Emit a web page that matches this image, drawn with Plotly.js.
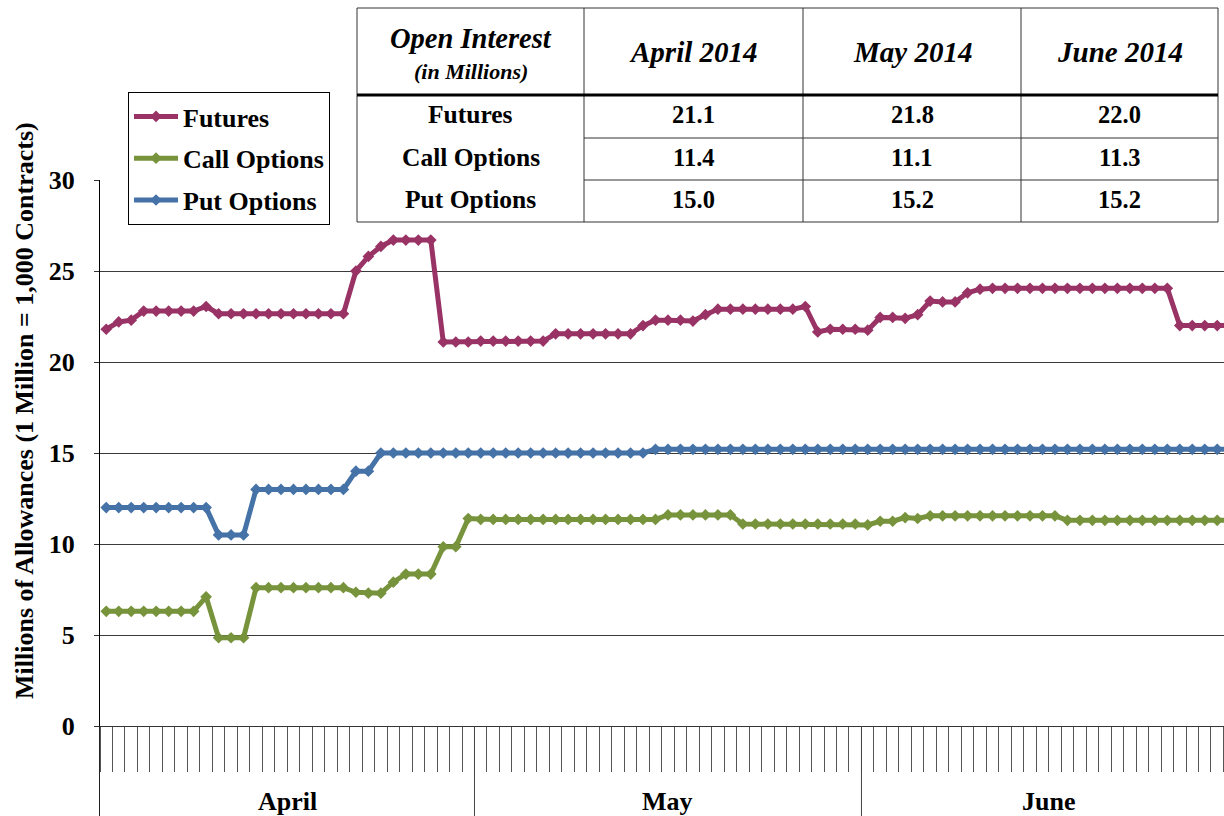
<!DOCTYPE html>
<html>
<head>
<meta charset="utf-8">
<script src="https://cdn.plot.ly/plotly-3.0.1.min.js"></script>
<style>
  html, body { margin: 0; padding: 0; background: #ffffff; overflow: hidden; }
  #chart { width: 1224px; height: 816px; }
</style>
</head>
<body>
<div id="chart"></div>
<script>
// ---------------- DATA ----------------
const monthNames   = ['April', 'May', 'June'];
const monthNumbers = [4, 5, 6];
const monthLengths = [30, 31, 30];
const year = 2014;

// Daily open interest, millions (April 1 .. June 30)
const futures = [
  // April
  21.8, 22.2, 22.3, 22.8, 22.8, 22.8, 22.8, 22.8, 23.05, 22.65,
  22.65, 22.65, 22.65, 22.65, 22.65, 22.65, 22.65, 22.65, 22.65, 22.65,
  25.0, 25.8, 26.35, 26.7, 26.7, 26.7, 26.7, 21.1, 21.1, 21.1,
  // May
  21.15, 21.15, 21.15, 21.15, 21.15, 21.15, 21.55, 21.55, 21.55, 21.55,
  21.55, 21.55, 21.55, 22.0, 22.3, 22.3, 22.3, 22.25, 22.6, 22.9,
  22.9, 22.9, 22.9, 22.9, 22.9, 22.9, 23.05, 21.65, 21.8, 21.8, 21.8,
  // June
  21.75, 22.45, 22.45, 22.4, 22.6, 23.35, 23.3, 23.3, 23.8, 24.0,
  24.05, 24.05, 24.05, 24.05, 24.05, 24.05, 24.05, 24.05, 24.05, 24.05,
  24.05, 24.05, 24.05, 24.05, 24.05, 22.0, 22.0, 22.0, 22.0, 22.0
];
const callOptions = [
  // April
  6.3, 6.3, 6.3, 6.3, 6.3, 6.3, 6.3, 6.3, 7.1, 4.85,
  4.85, 4.85, 7.6, 7.6, 7.6, 7.6, 7.6, 7.6, 7.6, 7.6,
  7.35, 7.3, 7.3, 7.9, 8.35, 8.35, 8.35, 9.85, 9.85, 11.4,
  // May
  11.35, 11.35, 11.35, 11.35, 11.35, 11.35, 11.35, 11.35, 11.35, 11.35,
  11.35, 11.35, 11.35, 11.35, 11.35, 11.6, 11.6, 11.6, 11.6, 11.6,
  11.6, 11.1, 11.1, 11.1, 11.1, 11.1, 11.1, 11.1, 11.1, 11.1, 11.1,
  // June
  11.05, 11.25, 11.25, 11.45, 11.4, 11.55, 11.55, 11.55, 11.55, 11.55,
  11.55, 11.55, 11.55, 11.55, 11.55, 11.55, 11.3, 11.3, 11.3, 11.3,
  11.3, 11.3, 11.3, 11.3, 11.3, 11.3, 11.3, 11.3, 11.3, 11.3
];
const putOptions = [
  // April
  12.0, 12.0, 12.0, 12.0, 12.0, 12.0, 12.0, 12.0, 12.0, 10.5,
  10.5, 10.5, 13.0, 13.0, 13.0, 13.0, 13.0, 13.0, 13.0, 13.0,
  14.0, 14.0, 15.0, 15.0, 15.0, 15.0, 15.0, 15.0, 15.0, 15.0,
  // May
  15.0, 15.0, 15.0, 15.0, 15.0, 15.0, 15.0, 15.0, 15.0, 15.0,
  15.0, 15.0, 15.0, 15.0, 15.2, 15.2, 15.2, 15.2, 15.2, 15.2,
  15.2, 15.2, 15.2, 15.2, 15.2, 15.2, 15.2, 15.2, 15.2, 15.2, 15.2,
  // June
  15.2, 15.2, 15.2, 15.2, 15.2, 15.2, 15.2, 15.2, 15.2, 15.2,
  15.2, 15.2, 15.2, 15.2, 15.2, 15.2, 15.2, 15.2, 15.2, 15.2,
  15.2, 15.2, 15.2, 15.2, 15.2, 15.2, 15.2, 15.2, 15.2, 15.2
];

const seriesNames = ['Futures', 'Call Options', 'Put Options'];
const yTicks = [0, 5, 10, 15, 20, 25, 30];

// Summary table
const tableCorner    = 'Open Interest';
const tableCornerSub = '(in Millions)';
const tableMonths    = ['April 2014', 'May 2014', 'June 2014'];
const tableRowNames  = ['Futures', 'Call Options', 'Put Options'];
const tableFutures   = ['21.1', '21.8', '22.0'];
const tableCalls     = ['11.4', '11.1', '11.3'];
const tablePuts      = ['15.0', '15.2', '15.2'];

const yTitle = 'Millions of Allowances (1 Million = 1,000 Contracts)';

// ---------------- BUILD ----------------
const DAY = 86400000;
function fmt(ms) { return new Date(ms).toISOString().slice(0, 19).replace('T', ' '); }
function pad(n) { return (n < 10 ? '0' : '') + n; }

const dates = [];
monthNumbers.forEach((m, i) => {
  for (let d = 1; d <= monthLengths[i]; d++) dates.push(year + '-' + pad(m) + '-' + pad(d));
});

const firstMs = Date.UTC(year, monthNumbers[0] - 1, 1);
const monthStartMs = monthNumbers.map(m => Date.UTC(year, m - 1, 1) - DAY / 2);
const monthCenters = monthStartMs.map((s, i) => fmt(s + monthLengths[i] * DAY / 2));
const monthBounds = monthStartMs.map(s => fmt(s));

// Layout geometry (pixels)
const W = 1224, H = 816;
const plotL = 100, plotT = 180, plotB = 726;
const pxDay = 12.483;
const rangeStart = firstMs - DAY / 2;
const rangeEnd = rangeStart + (W - plotL) / pxDay * DAY;
const px = x => x / W;
const py = y => 1 - y / H;

const FONT = 'Liberation Serif, Times New Roman, serif';
const colors = ['#993366', '#77933c', '#4572a7'];
const seriesData = [futures, callOptions, putOptions];

const traces = seriesData.map((vals, i) => ({
  type: 'scatter',
  mode: 'lines+markers',
  x: dates,
  y: vals,
  name: seriesNames[i],
  legendgroup: 'g' + i,
  line: { color: colors[i], width: 5 },
  marker: { symbol: 'diamond', size: 9, color: colors[i] },
  hoverinfo: 'x+y+name'
}));

const shapes = [];
const annotations = [];
const lineColor = '#333333';

// Month group dividers below the axis (from the month boundaries)
monthBounds.forEach((b, i) => {
  if (i === 0) {
    shapes.push({ type: 'line', xref: 'paper', yref: 'paper', layer: 'above',
      x0: px(plotL - 0.5), x1: px(plotL - 0.5), y0: 0, y1: py(plotB),
      line: { color: '#222222', width: 1 } });
  } else {
    shapes.push({ type: 'line', xref: 'x', yref: 'paper', layer: 'above',
      x0: b, x1: b, y0: 0, y1: py(plotB),
      line: { color: '#444444', width: 1 } });
  }
});
// Month labels centred under each month group
monthNames.forEach((name, i) => {
  annotations.push({ text: name, xref: 'x', yref: 'paper', x: monthCenters[i], y: py(801),
    xanchor: 'center', yanchor: 'middle', showarrow: false,
    font: { family: FONT, size: 26, color: '#000000', weight: 700 } });
});

// Table (annotations + lines), built from the table arrays
const colEdges = [357, 584, 803, 1021, 1218];
const rowEdges = [8, 95, 138, 180, 222];

shapes.push({ type: 'rect', xref: 'paper', yref: 'paper', layer: 'above',
  x0: px(colEdges[0]), x1: px(colEdges[4]), y0: py(rowEdges[4]), y1: py(rowEdges[0]),
  fillcolor: '#ffffff', line: { color: lineColor, width: 1 } });
for (let c = 1; c < colEdges.length - 1; c++) {
  shapes.push({ type: 'line', xref: 'paper', yref: 'paper', layer: 'above',
    x0: px(colEdges[c]), x1: px(colEdges[c]), y0: py(rowEdges[4]), y1: py(rowEdges[0]),
    line: { color: lineColor, width: 1 } });
}
shapes.push({ type: 'line', xref: 'paper', yref: 'paper', layer: 'above',
  x0: px(colEdges[0]), x1: px(colEdges[4]), y0: py(rowEdges[1]), y1: py(rowEdges[1]),
  line: { color: '#000000', width: 3 } });
for (let r = 2; r < rowEdges.length - 1; r++) {
  shapes.push({ type: 'line', xref: 'paper', yref: 'paper', layer: 'above',
    x0: px(colEdges[1]), x1: px(colEdges[4]), y0: py(rowEdges[r]), y1: py(rowEdges[r]),
    line: { color: lineColor, width: 1 } });
}

function cellCenterX(c) { return px((colEdges[c] + colEdges[c + 1]) / 2); }
function cellCenterY(r) { return py((rowEdges[r] + rowEdges[r + 1]) / 2 - 1.5); }
function tableText(text, x, y, size, italic) {
  annotations.push({ text: text, xref: 'paper', yref: 'paper', x: x, y: y,
    xanchor: 'center', yanchor: 'middle', showarrow: false,
    font: { family: FONT, size: size, color: '#000000', weight: 700, style: italic ? 'italic' : 'normal' } });
}
tableText(tableCorner, cellCenterX(0), py(38.5), 28.5, true);
tableText(tableCornerSub, cellCenterX(0), py(71), 22, true);
tableMonths.forEach((m, c) => tableText(m, cellCenterX(c + 1), py(52.5), 29, true));
const tableValues = [tableFutures, tableCalls, tablePuts];
tableRowNames.forEach((name, r) => {
  tableText(name, cellCenterX(0), cellCenterY(r + 1), 25.5, false);
  tableValues[r].forEach((v, c) => tableText(v, cellCenterX(c + 1), cellCenterY(r + 1), 24.5, false));
});

// Y axis title
annotations.push({ text: yTitle, xref: 'paper', yref: 'paper', x: px(24), y: py(411),
  xanchor: 'center', yanchor: 'middle', showarrow: false, textangle: -90,
  font: { family: FONT, size: 26, color: '#000000', weight: 700 } });

const xRange = [fmt(rangeStart), fmt(rangeEnd)];

const layout = {
  width: W, height: H,
  margin: { l: 0, r: 0, t: 0, b: 0, pad: 0 },
  paper_bgcolor: '#ffffff', plot_bgcolor: '#ffffff',
  font: { family: FONT, color: '#000000' },
  showlegend: true,
  legend: {
    x: px(128), y: py(92), xanchor: 'left', yanchor: 'top',
    bgcolor: '#ffffff', bordercolor: '#000000', borderwidth: 1,
    font: { family: FONT, size: 26, color: '#000000', weight: 700 },
    traceorder: 'grouped', tracegroupgap: 5, itemwidth: 44
  },
  xaxis: {
    type: 'date', domain: [px(plotL), 1], range: xRange,
    tickmode: 'linear', tick0: fmt(rangeStart), dtick: DAY,
    ticks: 'outside', ticklen: 45, tickwidth: 1, tickcolor: '#555555',
    showticklabels: false, showgrid: false, zeroline: false,
    showline: true, linecolor: '#333333', linewidth: 1
  },
  yaxis: {
    domain: [py(plotB), py(plotT)], range: [0, 30],
    tickmode: 'array', tickvals: yTicks, ticktext: yTicks.map(String),
    ticks: 'outside', ticklen: 5, tickcolor: '#333333', ticklabelstandoff: 14,
    tickfont: { family: FONT, size: 26, color: '#000000', weight: 700 },
    showgrid: true, gridcolor: '#3a3a3a', gridwidth: 1,
    zeroline: false, showline: true, linecolor: '#000000', linewidth: 1
  },
  shapes: shapes,
  annotations: annotations
};

Plotly.newPlot('chart', traces, layout, { displayModeBar: false, staticPlot: true });
</script>
</body>
</html>
